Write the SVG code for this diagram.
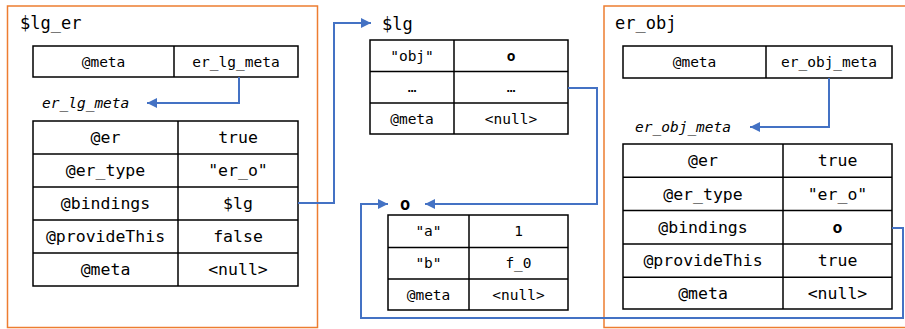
<svg xmlns="http://www.w3.org/2000/svg" width="905" height="329" viewBox="0 0 905 329">
  <style>
    .frame { fill: none; stroke: #ED7D31; stroke-width: 1.5; }
    .cell { fill: #ffffff; stroke: #000000; stroke-width: 1.5; }
    .rule { stroke: #000000; stroke-width: 1.5; }
    .link { fill: none; stroke: #4472C4; stroke-width: 2; }
    text { font-family: "DejaVu Sans Mono", "Liberation Mono", monospace; fill: #000000; }
    .title { font-size: 17px; }
    .big { font-size: 16.5px; text-anchor: middle; dominant-baseline: central; }
    .small { font-size: 14.5px; text-anchor: middle; dominant-baseline: central; }
    .tag { font-size: 14.5px; font-style: italic; }
    .bold { font-weight: bold; }
  </style>
  <defs>
    <marker id="arrow" viewBox="0 0 10 10" refX="10" refY="5" markerWidth="5" markerHeight="5" orient="auto" markerUnits="strokeWidth">
      <path d="M0,0 L10,5 L0,10 z" fill="#4472C4"/>
    </marker>
  </defs>

  <!-- $lg_er environment record -->
  <g id="lg_er">
    <rect class="frame" x="7.5" y="6" width="310" height="321.5"/>
    <text class="title" x="20" y="29">$lg_er</text>
    <rect class="cell" x="33" y="46" width="265" height="31"/>
    <line class="rule" x1="174" y1="46" x2="174" y2="77"/>
    <text class="small" x="103.5" y="61.5">@meta</text>
    <text class="small" x="236" y="61.5">er_lg_meta</text>
  </g>

  <g id="er_lg_meta">
    <text class="tag" x="42" y="108">er_lg_meta</text>
    <rect class="cell" x="33" y="121" width="265" height="165"/>
    <line class="rule" x1="178" y1="121" x2="178" y2="286"/>
    <line class="rule" x1="33" y1="154" x2="298" y2="154"/>
    <line class="rule" x1="33" y1="187" x2="298" y2="187"/>
    <line class="rule" x1="33" y1="220" x2="298" y2="220"/>
    <line class="rule" x1="33" y1="253" x2="298" y2="253"/>
    <text class="big" x="105.5" y="137.5">@er</text>
    <text class="big" x="238" y="137.5">true</text>
    <text class="big" x="105.5" y="170.5">@er_type</text>
    <text class="big" x="238" y="170.5">"er_o"</text>
    <text class="big" x="105.5" y="203.5">@bindings</text>
    <text class="big" x="238" y="203.5">$lg</text>
    <text class="big" x="105.5" y="236.5">@provideThis</text>
    <text class="big" x="238" y="236.5">false</text>
    <text class="big" x="105.5" y="269.5">@meta</text>
    <text class="big" x="238" y="269.5">&lt;null&gt;</text>
  </g>

  <!-- $lg object -->
  <g id="lg">
    <text class="title" x="382" y="30">$lg</text>
    <rect class="cell" x="370" y="40" width="198" height="94"/>
    <line class="rule" x1="454" y1="40" x2="454" y2="134"/>
    <line class="rule" x1="370" y1="71.5" x2="568" y2="71.5"/>
    <line class="rule" x1="370" y1="103" x2="568" y2="103"/>
    <text class="small" x="412" y="56">"obj"</text>
    <text class="small bold" x="511" y="56">o</text>
    <text class="small" x="412" y="87">…</text>
    <text class="small" x="511" y="87">…</text>
    <text class="small" x="412" y="118.5">@meta</text>
    <text class="small" x="511" y="118.5">&lt;null&gt;</text>
  </g>

  <!-- o object -->
  <g id="o">
    <text class="title bold" x="400" y="210">o</text>
    <rect class="cell" x="388" y="215" width="180" height="95"/>
    <line class="rule" x1="469" y1="215" x2="469" y2="310"/>
    <line class="rule" x1="388" y1="247.5" x2="568" y2="247.5"/>
    <line class="rule" x1="388" y1="279" x2="568" y2="279"/>
    <text class="small" x="428.5" y="231">"a"</text>
    <text class="small" x="518.5" y="231">1</text>
    <text class="small" x="428.5" y="263">"b"</text>
    <text class="small" x="518.5" y="263">f_0</text>
    <text class="small" x="428.5" y="294.5">@meta</text>
    <text class="small" x="518.5" y="294.5">&lt;null&gt;</text>
  </g>

  <!-- er_obj environment record -->
  <g id="er_obj">
    <rect class="frame" x="604" y="6" width="320" height="321.5"/>
    <text class="title" x="615" y="29">er_obj</text>
    <rect class="cell" x="623" y="46" width="269" height="32"/>
    <line class="rule" x1="766" y1="46" x2="766" y2="78"/>
    <text class="small" x="694.5" y="62">@meta</text>
    <text class="small" x="829" y="62">er_obj_meta</text>
  </g>

  <g id="er_obj_meta">
    <text class="tag" x="635" y="132">er_obj_meta</text>
    <rect class="cell" x="623" y="144" width="269" height="165"/>
    <line class="rule" x1="783" y1="144" x2="783" y2="309"/>
    <line class="rule" x1="623" y1="177.3" x2="892" y2="177.3"/>
    <line class="rule" x1="623" y1="210.6" x2="892" y2="210.6"/>
    <line class="rule" x1="623" y1="244" x2="892" y2="244"/>
    <line class="rule" x1="623" y1="277.3" x2="892" y2="277.3"/>
    <text class="big" x="703" y="160.6">@er</text>
    <text class="big" x="837.5" y="160.6">true</text>
    <text class="big" x="703" y="194">@er_type</text>
    <text class="big" x="837.5" y="194">"er_o"</text>
    <text class="big" x="703" y="227.3">@bindings</text>
    <text class="big bold" x="837.5" y="227.3">o</text>
    <text class="big" x="703" y="260.6">@provideThis</text>
    <text class="big" x="837.5" y="260.6">true</text>
    <text class="big" x="703" y="293">@meta</text>
    <text class="big" x="837.5" y="293">&lt;null&gt;</text>
  </g>

  <!-- references between records -->
  <g id="connectors">
    <path class="link" d="M239,77 V103 H147" marker-end="url(#arrow)"/>
    <path class="link" d="M298,203 H334 V23 H371" marker-end="url(#arrow)"/>
    <path class="link" d="M568,88 H597 V204 H425" marker-end="url(#arrow)"/>
    <path class="link" d="M829,78 V127 H750" marker-end="url(#arrow)"/>
    <path class="link" d="M892,228 H903 V318 H361 V204 H388" marker-end="url(#arrow)"/>
  </g>
</svg>
